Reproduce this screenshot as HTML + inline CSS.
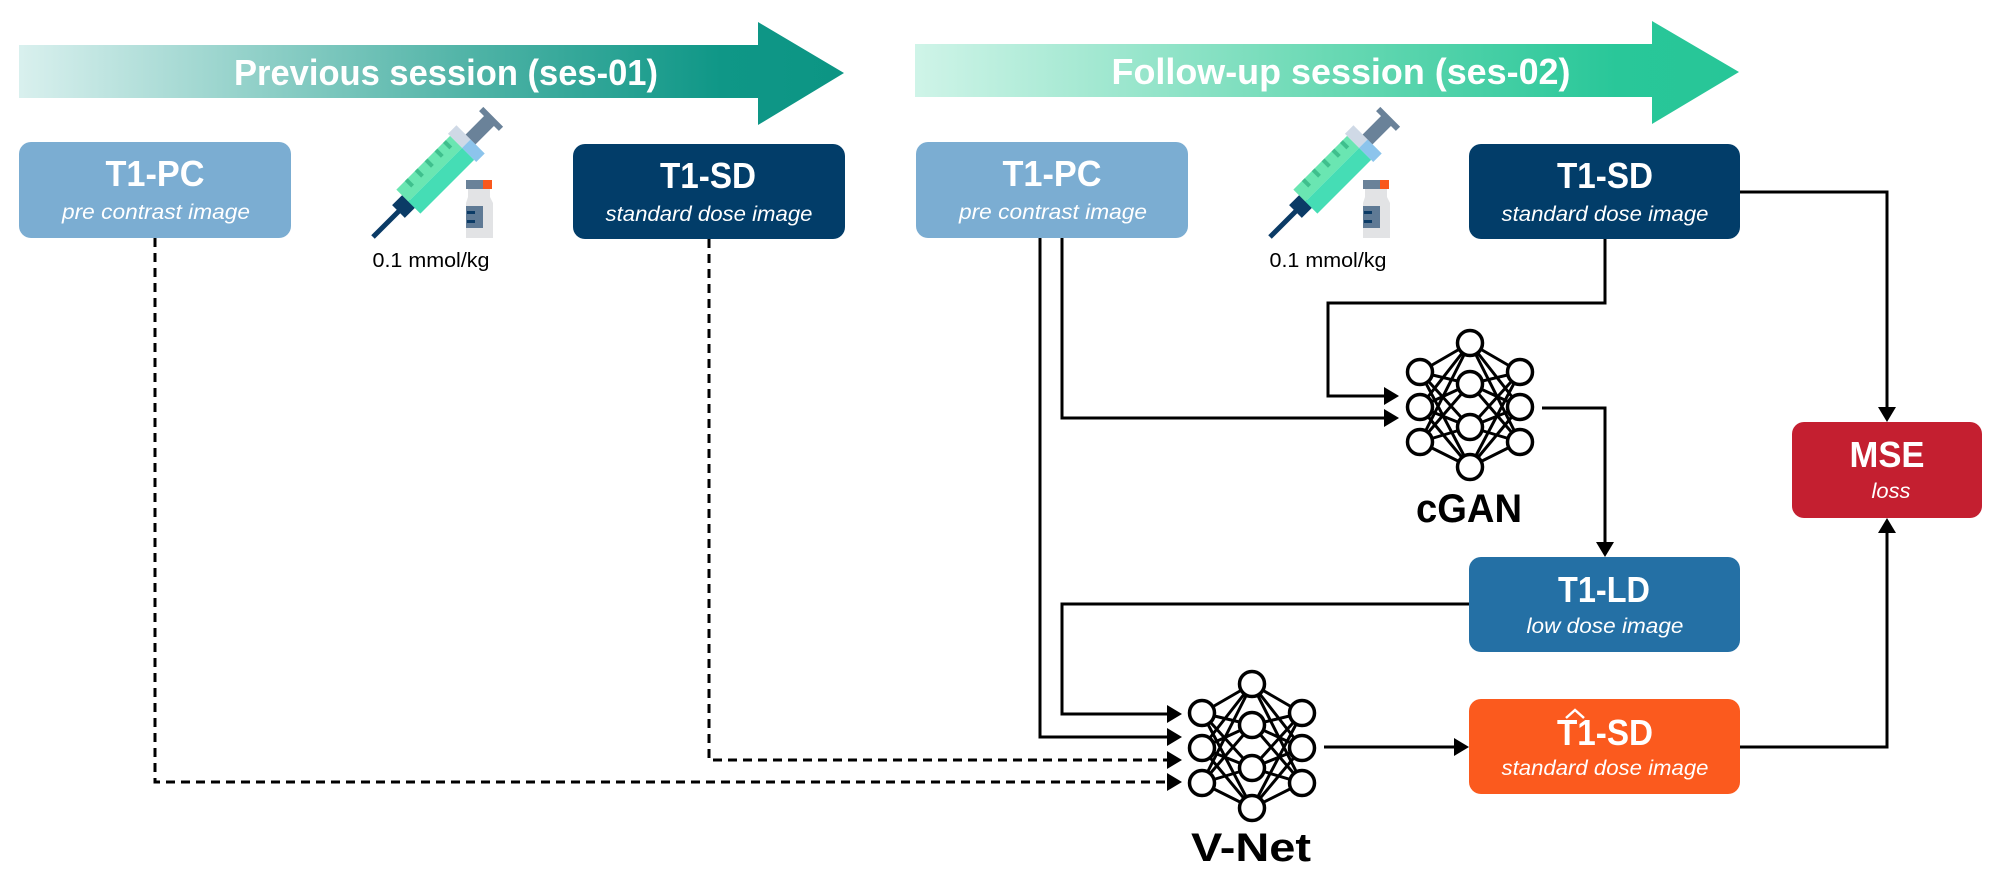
<!DOCTYPE html>
<html><head><meta charset="utf-8"><style>
html,body{margin:0;padding:0;background:#fff;}
svg{display:block;}
text{font-family:"Liberation Sans",sans-serif;}
</style></head><body>
<svg width="2002" height="877" viewBox="0 0 2002 877" xmlns="http://www.w3.org/2000/svg">
<defs>
<linearGradient id="g1" x1="0" x2="1" y1="0" y2="0">
<stop offset="0" stop-color="#d9f0ee"/><stop offset="0.55" stop-color="#4fb3a6"/><stop offset="0.85" stop-color="#0f9787"/><stop offset="1" stop-color="#0c9584"/>
</linearGradient>
<linearGradient id="g2" x1="0" x2="1" y1="0" y2="0">
<stop offset="0" stop-color="#cff4e8"/><stop offset="0.5" stop-color="#6ad9b4"/><stop offset="0.85" stop-color="#29c799"/><stop offset="1" stop-color="#27c698"/>
</linearGradient>
<g id="net" fill="none" stroke="#000" stroke-width="3.5">
<g stroke-width="3">
<path d="M-50,29 L0,0 M-50,29 L0,41 M-50,29 L0,84 M-50,29 L0,124 M-50,64 L0,0 M-50,64 L0,41 M-50,64 L0,84 M-50,64 L0,124 M-50,99 L0,0 M-50,99 L0,41 M-50,99 L0,84 M-50,99 L0,124"/>
<path d="M50,29 L0,0 M50,29 L0,41 M50,29 L0,84 M50,29 L0,124 M50,64 L0,0 M50,64 L0,41 M50,64 L0,84 M50,64 L0,124 M50,99 L0,0 M50,99 L0,41 M50,99 L0,84 M50,99 L0,124"/>
</g>
<g fill="#fff">
<circle cx="0" cy="0" r="12.5"/><circle cx="0" cy="41" r="12.5"/><circle cx="0" cy="84" r="12.5"/><circle cx="0" cy="124" r="12.5"/>
<circle cx="-50" cy="29" r="12.5"/><circle cx="-50" cy="64" r="12.5"/><circle cx="-50" cy="99" r="12.5"/>
<circle cx="50" cy="29" r="12.5"/><circle cx="50" cy="64" r="12.5"/><circle cx="50" cy="99" r="12.5"/>
</g>
</g>
<g id="syr">
<!-- syringe along +x axis, rotated -45 -->
<g transform="translate(373,237) rotate(-45)">
<rect x="0" y="-2.5" width="40" height="5" fill="#0b3b66"/>
<rect x="36" y="-9" width="16" height="18" fill="#0b3b66"/>
<rect x="50" y="-17" width="76" height="17" fill="#6ae6b2"/>
<rect x="50" y="0" width="76" height="17" fill="#45ddb5"/>
<g fill="#3fbf8d"><rect x="62" y="-17" width="4" height="9"/><rect x="76" y="-17" width="4" height="9"/><rect x="90" y="-17" width="4" height="9"/><rect x="104" y="-17" width="4" height="9"/><rect x="116" y="-17" width="4" height="9"/></g>
<rect x="126" y="-20" width="12" height="20" fill="#cfd9e6"/>
<rect x="126" y="0" width="12" height="20" fill="#8cc4ec"/>
<rect x="138" y="-7" width="28" height="14" fill="#6a8299"/>
<rect x="164" y="-14" width="6" height="28" fill="#6a8299"/>
</g>
<rect x="466" y="180" width="17" height="9" fill="#6a8299"/>
<rect x="483" y="180" width="9" height="9" fill="#f9581d"/>
<path d="M468,189 h22 v8 l3,6 v35 h-27 v-35 l2,-6z" fill="#e2e3e5"/>
<rect x="466" y="206" width="17" height="22" fill="#5f7a95"/>
<rect x="467" y="211" width="8" height="3" fill="#0b3b66"/><rect x="467" y="220" width="8" height="3" fill="#0b3b66"/>
</g>
</defs>

<!-- session arrows -->
<path d="M19,45 H758 V22 L844,73 L758,125 V98 H19 Z" fill="url(#g1)"/>
<text x="446" y="85" font-size="36" font-weight="bold" fill="#fff" text-anchor="middle" textLength="424" lengthAdjust="spacingAndGlyphs">Previous session (ses-01)</text>
<path d="M915,44 H1652 V21 L1739,72 L1652,124 V97 H915 Z" fill="url(#g2)"/>
<text x="1341" y="84" font-size="36" font-weight="bold" fill="#fff" text-anchor="middle" textLength="459" lengthAdjust="spacingAndGlyphs">Follow-up session (ses-02)</text>

<!-- syringes -->
<use href="#syr"/>
<text x="431" y="267" font-size="20" text-anchor="middle" textLength="117" lengthAdjust="spacingAndGlyphs">0.1 mmol/kg</text>
<use href="#syr" transform="translate(897,0)"/>
<text x="1328" y="267" font-size="20" text-anchor="middle" textLength="117" lengthAdjust="spacingAndGlyphs">0.1 mmol/kg</text>

<!-- connectors -->
<g fill="none" stroke="#000" stroke-width="3">
<path d="M155,238 V782 H1168" stroke-dasharray="9,6"/>
<path d="M709,239 V760 H1168" stroke-dasharray="9,6"/>
<path d="M1040,238 V737 H1168"/>
<path d="M1062,238 V418 H1386"/>
<path d="M1605,239 V303 H1328 V396 H1386"/>
<path d="M1542,408 H1605 V545"/>
<path d="M1469,604 H1062 V714 H1168"/>
<path d="M1324,747 H1457"/>
<path d="M1740,192 H1887 V410"/>
<path d="M1740,747 H1887 V530"/>
</g>
<g fill="#000">
<path d="M1182,714 l-15,-9 v18z"/><path d="M1182,737 l-15,-9 v18z"/><path d="M1182,760 l-15,-9 v18z"/><path d="M1182,782 l-15,-9 v18z"/>
<path d="M1399,396 l-15,-9 v18z"/><path d="M1399,418 l-15,-9 v18z"/>
<path d="M1605,557 l-9,-15 h18z"/>
<path d="M1469,747 l-15,-9 v18z"/>
<path d="M1887,422 l-9,-15 h18z"/>
<path d="M1887,518 l-9,15 h18z"/>
</g>

<!-- boxes -->
<rect x="19" y="142" width="272" height="96" rx="12" fill="#7badd2"/>
<text x="155" y="186" font-size="36" font-weight="bold" fill="#fff" text-anchor="middle" textLength="99" lengthAdjust="spacingAndGlyphs">T1-PC</text>
<text x="156" y="219" font-size="21" font-style="italic" fill="#fff" text-anchor="middle" textLength="188" lengthAdjust="spacingAndGlyphs">pre contrast image</text>

<rect x="573" y="144" width="272" height="95" rx="12" fill="#023d69"/>
<text x="708" y="188" font-size="36" font-weight="bold" fill="#fff" text-anchor="middle" textLength="96" lengthAdjust="spacingAndGlyphs">T1-SD</text>
<text x="709" y="221" font-size="21" font-style="italic" fill="#fff" text-anchor="middle" textLength="207" lengthAdjust="spacingAndGlyphs">standard dose image</text>

<rect x="916" y="142" width="272" height="96" rx="12" fill="#7badd2"/>
<text x="1052" y="186" font-size="36" font-weight="bold" fill="#fff" text-anchor="middle" textLength="99" lengthAdjust="spacingAndGlyphs">T1-PC</text>
<text x="1053" y="219" font-size="21" font-style="italic" fill="#fff" text-anchor="middle" textLength="188" lengthAdjust="spacingAndGlyphs">pre contrast image</text>

<rect x="1469" y="144" width="271" height="95" rx="12" fill="#023d69"/>
<text x="1605" y="188" font-size="36" font-weight="bold" fill="#fff" text-anchor="middle" textLength="96" lengthAdjust="spacingAndGlyphs">T1-SD</text>
<text x="1605" y="221" font-size="21" font-style="italic" fill="#fff" text-anchor="middle" textLength="207" lengthAdjust="spacingAndGlyphs">standard dose image</text>

<rect x="1469" y="557" width="271" height="95" rx="12" fill="#2470a5"/>
<text x="1604" y="602" font-size="36" font-weight="bold" fill="#fff" text-anchor="middle" textLength="92" lengthAdjust="spacingAndGlyphs">T1-LD</text>
<text x="1605" y="633" font-size="21" font-style="italic" fill="#fff" text-anchor="middle" textLength="157" lengthAdjust="spacingAndGlyphs">low dose image</text>

<rect x="1469" y="699" width="271" height="95" rx="12" fill="#fb5a1e"/>
<text x="1605" y="745" font-size="36" font-weight="bold" fill="#fff" text-anchor="middle" textLength="96" lengthAdjust="spacingAndGlyphs">T1-SD</text>
<path d="M1566,718 l9,-8 l9,8" fill="none" stroke="#fff" stroke-width="2.5"/>
<text x="1605" y="775" font-size="21" font-style="italic" fill="#fff" text-anchor="middle" textLength="207" lengthAdjust="spacingAndGlyphs">standard dose image</text>

<rect x="1792" y="422" width="190" height="96" rx="12" fill="#c41f30"/>
<text x="1887" y="467" font-size="36" font-weight="bold" fill="#fff" text-anchor="middle" textLength="75" lengthAdjust="spacingAndGlyphs">MSE</text>
<text x="1891" y="498" font-size="21" font-style="italic" fill="#fff" text-anchor="middle" textLength="39" lengthAdjust="spacingAndGlyphs">loss</text>

<!-- networks -->
<use href="#net" transform="translate(1470,343)"/>
<text x="1469" y="522" font-size="40" font-weight="bold" text-anchor="middle" textLength="106" lengthAdjust="spacingAndGlyphs">cGAN</text>
<use href="#net" transform="translate(1252,684)"/>
<text x="1251" y="861" font-size="40" font-weight="bold" text-anchor="middle" textLength="120" lengthAdjust="spacingAndGlyphs">V-Net</text>
</svg>
</body></html>
